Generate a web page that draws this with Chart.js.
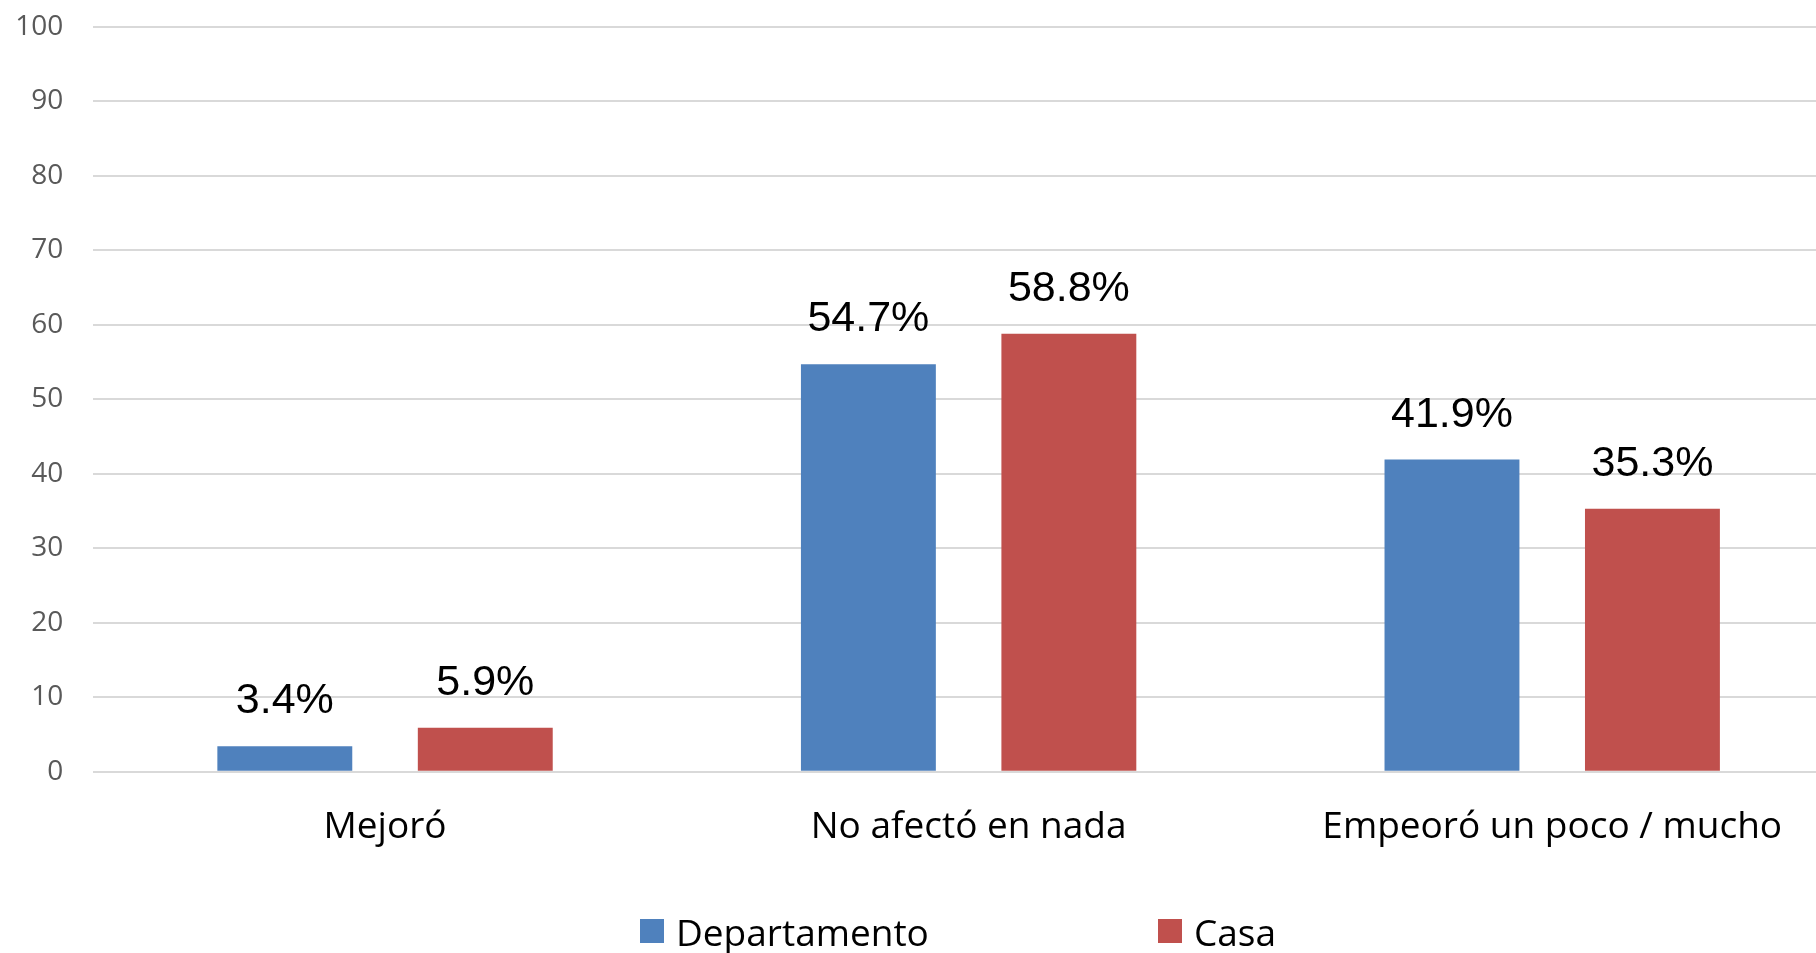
<!DOCTYPE html>
<html>
<head>
<meta charset="utf-8">
<script src="https://cdn.jsdelivr.net/npm/chart.js@4.4.1/dist/chart.umd.min.js"></script>
<style>
  html, body { margin: 0; padding: 0; background: #fff; overflow: hidden; }
  #wrap { position: relative; width: 1844px; height: 953px; overflow: hidden; }
  #lienzo { position: absolute; left: 0; top: -20px; width: 1844px; height: 973px; }
  #leyenda { position: absolute; left: 0; top: 0; width: 1844px; height: 953px; pointer-events: none; }
  .item { position: absolute; top: 913px; font-family: "Open Sans", sans-serif; font-size: 37px; line-height: 1; color: #000; white-space: nowrap; }
  .caja { position: absolute; top: 6px; width: 24px; height: 24px; }
  .item span.txt { position: absolute; left: 36px; top: 0; }
</style>
</head>
<body>
<div id="wrap">
  <div id="lienzo"><canvas id="grafico"></canvas></div>
  <div id="leyenda"></div>
</div>
<script>
const categorias = ['Mejoró', 'No afectó en nada', 'Empeoró un poco / mucho'];
const departamento = [3.4, 54.7, 41.9];
const casa = [5.9, 58.8, 35.3];
const series = ['Departamento', 'Casa'];
const colores = ['#4F81BD', '#C0504D'];
const ticksY = [0, 10, 20, 30, 40, 50, 60, 70, 80, 90, 100];

// etiquetas de valor sobre cada barra
const etiquetasValor = {
    id: 'etiquetasValor',
    afterDatasetsDraw(chart) {
        const ctx = chart.ctx;
        ctx.save();
        ctx.font = '43px "Liberation Sans", Arial, sans-serif';
        ctx.fillStyle = '#000';
        ctx.textAlign = 'center';
        ctx.textBaseline = 'alphabetic';
        chart.data.datasets.forEach((ds, i) => {
            chart.getDatasetMeta(i).data.forEach((barra, j) => {
                ctx.fillText(ds.data[j].toFixed(1) + '%', barra.x, barra.y - 33);
            });
        });
        ctx.restore();
    }
};

const ctx = document.getElementById('grafico').getContext('2d');
new Chart(ctx, {
    type: 'bar',
    data: {
        labels: categorias,
        datasets: [
            { label: series[0], data: departamento, backgroundColor: colores[0] },
            { label: series[1], data: casa, backgroundColor: colores[1] }
        ]
    },
    options: {
        responsive: true,
        maintainAspectRatio: false,
        animation: false,
        datasets: { bar: { categoryPercentage: 0.687, barPercentage: 0.673 } },
        layout: { padding: { top: 5, left: 0, right: 0, bottom: 0 } },
        plugins: {
            legend: { display: false },
            tooltip: { enabled: false }
        },
        scales: {
            x: {
                grid: { display: false },
                border: { display: false },
                ticks: {
                    color: '#000',
                    font: { family: '"Open Sans", sans-serif', size: 37 },
                    padding: 26,
                    maxRotation: 0
                },
                afterFit(scale) { scale.height = 181.3; }
            },
            y: {
                min: 0,
                max: 100,
                afterBuildTicks(scale) { scale.ticks = ticksY.map(v => ({ value: v })); },
                grid: { color: '#d9d9d9', lineWidth: 2, drawTicks: false },
                border: { display: false },
                ticks: {
                    color: '#595959',
                    font: { family: '"Open Sans", sans-serif', size: 28 },
                    padding: 30
                },
                afterFit(scale) { scale.width = 93.25; }
            }
        }
    },
    plugins: [etiquetasValor]
});

// leyenda en html
const posLeyenda = [640, 1158];
const leyenda = document.getElementById('leyenda');
series.forEach((nombre, i) => {
    const item = document.createElement('div');
    item.className = 'item';
    item.style.left = posLeyenda[i] + 'px';
    item.innerHTML = '<div class="caja" style="background:' + colores[i] + '"></div><span class="txt">' + nombre + '</span>';
    leyenda.appendChild(item);
});
</script>
</body>
</html>
